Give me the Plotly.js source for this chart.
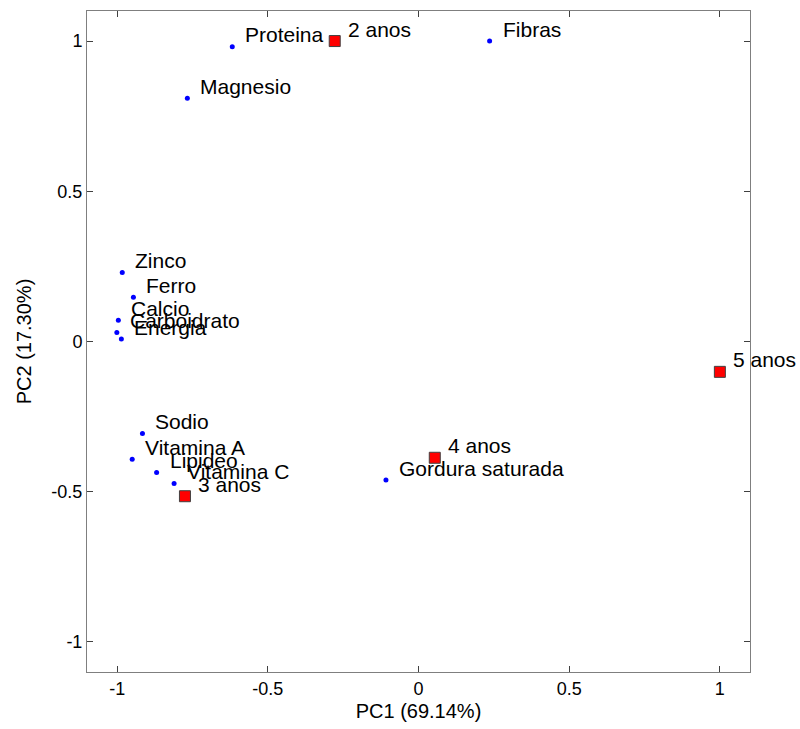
<!DOCTYPE html>
<html>
<head>
<meta charset="utf-8">
<script src="https://cdn.plot.ly/plotly-3.0.1.min.js"></script>
<style>html,body{margin:0;padding:0;background:#fff;}#chart{width:800px;height:729px;}</style>
</head>
<body>
<div id="chart"></div>
<script>
// Loadings (variables)
var varNames = ["Proteina", "Fibras", "Magnesio", "Zinco", "Ferro", "Calcio", "Carboidrato", "Energia",
                "Sodio", "Vitamina A", "Lipideo", "Vitamina C", "Gordura saturada"];
var varPC1 = [-0.618, 0.236, -0.767, -0.983, -0.946, -0.996, -1.001, -0.986,
              -0.916, -0.950, -0.869, -0.811, -0.108];
var varPC2 = [0.981, 1.000, 0.810, 0.230, 0.147, 0.071, 0.030, 0.008,
              -0.306, -0.392, -0.436, -0.473, -0.461];
// Scores (samples)
var sampleNames = ["2 anos", "3 anos", "4 anos", "5 anos"];
var samplePC1 = [-0.278, -0.775, 0.054, 1.000];
var samplePC2 = [1.000, -0.515, -0.387, -0.101];
var tickVals = [-1, -0.5, 0, 0.5, 1];
var tickText = ["-1", "-0.5", "0", "0.5", "1"];

var FONT = "Liberation Sans, Arial, sans-serif";

var traces = [
  {type: "scatter", mode: "markers", x: varPC1, y: varPC2, text: varNames,
   marker: {color: "#0000ff", size: 5}, hoverinfo: "text", showlegend: false, cliponaxis: false},
  {type: "scatter", mode: "markers", x: samplePC1, y: samplePC2, text: sampleNames,
   marker: {color: "#ff0000", size: 11, symbol: "square", line: {color: "#404040", width: 1}},
   hoverinfo: "text", showlegend: false, cliponaxis: false}
];

var annotations = [];
function addLabels(names, xs, ys) {
  for (var i = 0; i < names.length; i++) {
    annotations.push({x: xs[i], y: ys[i], xref: "x", yref: "y", text: names[i], showarrow: false,
      xanchor: "left", yanchor: "middle", xshift: 11, yshift: 12,
      font: {family: FONT, size: 21, color: "#000"}});
  }
}
addLabels(varNames, varPC1, varPC2);
addLabels(sampleNames, samplePC1, samplePC2);

var axisCommon = {
  showline: true, mirror: "ticks", linecolor: "#7f7f7f", linewidth: 1,
  ticks: "inside", ticklen: 6, tickwidth: 1, tickcolor: "#404040",
  showgrid: false, zeroline: false, tickmode: "array", tickvals: tickVals, ticktext: tickText,
  tickfont: {family: FONT, size: 18, color: "#000"}, automargin: false
};

var layout = {
  width: 800, height: 729,
  margin: {l: 87, r: 50, t: 11, b: 57},
  paper_bgcolor: "#fff", plot_bgcolor: "#fff",
  font: {family: FONT, color: "#000"},
  xaxis: Object.assign({}, axisCommon, {range: [-1.1, 1.1],
    title: {text: "PC1 (69.14%)", font: {family: FONT, size: 20, color: "#000"}, standoff: 6}}),
  yaxis: Object.assign({}, axisCommon, {range: [-1.1, 1.1],
    title: {text: "PC2 (17.30%)", font: {family: FONT, size: 20, color: "#000"}, standoff: 14}}),
  annotations: annotations
};

Plotly.newPlot("chart", traces, layout, {displayModeBar: false, staticPlot: true});
</script>
</body>
</html>
